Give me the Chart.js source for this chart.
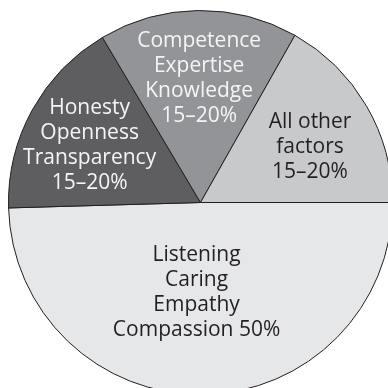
<!DOCTYPE html>
<html>
<head>
<meta charset="utf-8">
<script src="https://cdn.jsdelivr.net/npm/chart.js@4"></script>
<style>
  html, body {
    margin: 0;
    padding: 0;
    width: 388px;
    height: 388px;
    overflow: hidden;
    background: #fff;
  }

  /* the pie runs past the right and bottom edges in the original */
  #chart {
    position: absolute;
    left: 8px;
    top: 10px;
  }
</style>
</head>
<body>
<canvas id="chart" width="385" height="385"></canvas>
<script>
// slices, clockwise from 3 o'clock
const categories = ['Listening', 'Honesty', 'Competence', 'All other factors'];
const shares = [49.5, 16.9, 16.7, 16.8];
const sliceLabels = [
  ['Listening', 'Caring', 'Empathy', 'Compassion 50%'],
  ['Honesty', 'Openness', 'Transparency', '15–20%'],
  ['Competence', 'Expertise', 'Knowledge', '15–20%'],
  ['All other', 'factors', '15–20%'],
];

const FILLS = ['#e6e7e8', '#5e5e60', '#939497', '#c8c9cb'];
const TEXT_COLORS = ['#231f20', '#f5f5f5', '#f5f5f5', '#231f20'];
// where each label block sits: fraction of radius, and a small turn (degrees) off the slice middle
const LABEL_RADIUS = [0.47, 0.65, 0.645, 0.64];
const LABEL_TURN = [3.3, -1.5, 0, 3.3];
const LINE_HEIGHT = 25;

const sliceText = {
  id: 'sliceText',
  afterDatasetsDraw(chart) {
    const { ctx } = chart;
    const meta = chart.getDatasetMeta(0);
    ctx.save();
    ctx.font = '21px "Open Sans", sans-serif';
    ctx.textAlign = 'center';
    ctx.textBaseline = 'middle';
    meta.data.forEach((arc, i) => {
      const { x, y, startAngle, endAngle, outerRadius } = arc.getProps(
        ['x', 'y', 'startAngle', 'endAngle', 'outerRadius'],
        true,
      );
      const mid = (startAngle + endAngle) / 2 + (LABEL_TURN[i] * Math.PI) / 180;
      const r = outerRadius * LABEL_RADIUS[i];
      const cx = x + Math.cos(mid) * r;
      const cy = y + Math.sin(mid) * r;
      const lines = sliceLabels[i];
      const top = cy - ((lines.length - 1) * LINE_HEIGHT) / 2;
      ctx.fillStyle = TEXT_COLORS[i];
      lines.forEach((line, j) => {
        ctx.fillText(line, cx, top + j * LINE_HEIGHT);
      });
    });
    ctx.restore();
  },
};

new Chart(document.getElementById('chart'), {
  type: 'pie',
  data: {
    labels: categories,
    datasets: [
      {
        data: shares,
        backgroundColor: FILLS,
        borderColor: '#231f20',
        borderWidth: 1,
      },
    ],
  },
  options: {
    responsive: false,
    rotation: 90,
    animation: false,
    layout: { padding: 0 },
    plugins: {
      legend: { display: false },
      tooltip: { enabled: false },
    },
  },
  plugins: [sliceText],
});
</script>
</body>
</html>
